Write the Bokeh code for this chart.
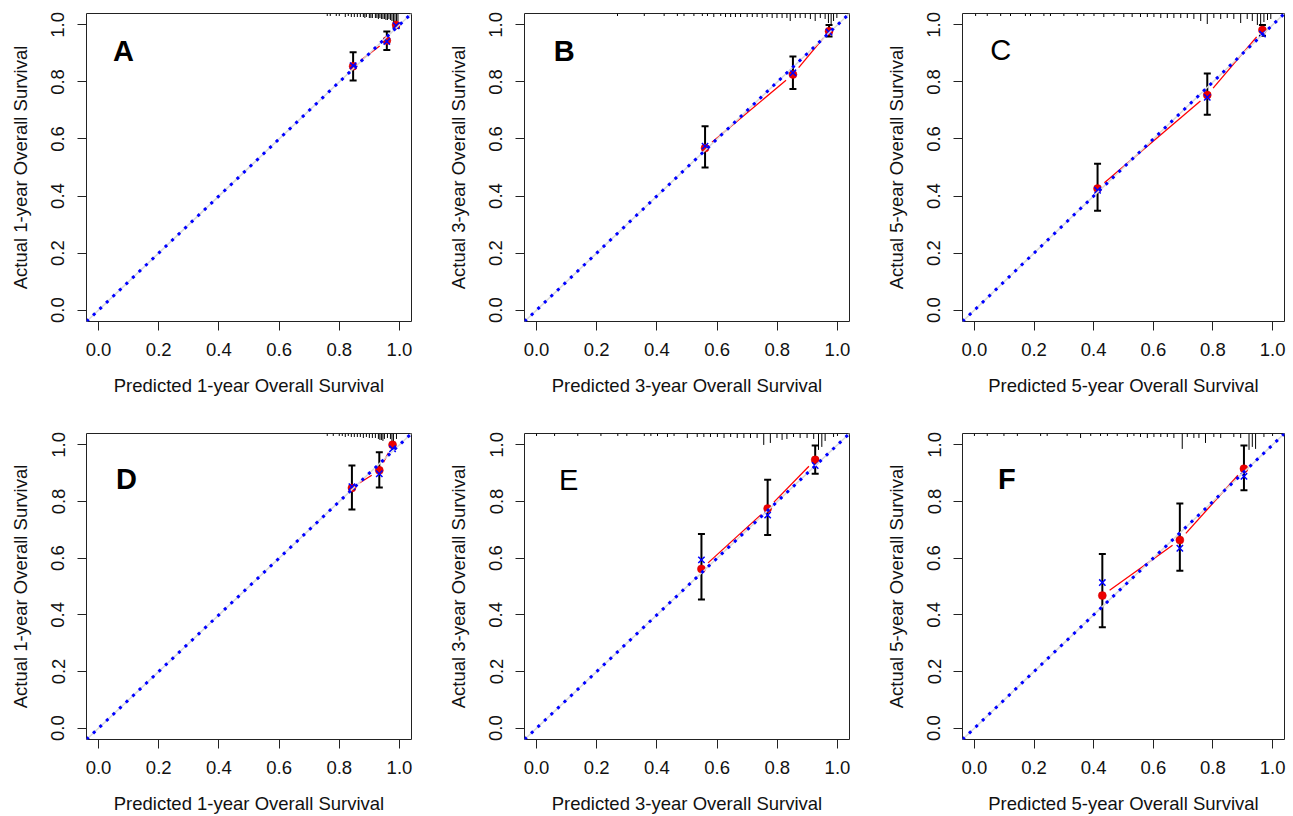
from bokeh.plotting import figure
from bokeh.models import (Range1d, FixedTicker, PrintfTickFormatter, Slope, Whisker,
                          TeeHead, ColumnDataSource, Label)
from bokeh.layouts import row, column
from bokeh.embed import file_html
from bokeh.resources import INLINE

# ---------------- data ----------------
tick_values = [0.0, 0.2, 0.4, 0.6, 0.8, 1.0]
tick_labels = ["0.0", "0.2", "0.4", "0.6", "0.8", "1.0"]

panel_keys = ["A", "B", "C", "D", "E", "F"]
panel_years = [1, 3, 5, 1, 3, 5]

# predicted (x), observed (red dots), CI low/high, KM-corrected (blue x)
pred_A = [0.846, 0.958, 0.989]
obs_A = [0.855, 0.945, 1.000]
lo_A = [0.805, 0.912, 0.990]
hi_A = [0.904, 0.977, 1.000]
km_A = [0.857, 0.942, 0.997]

pred_B = [0.560, 0.852, 0.972]
obs_B = [0.568, 0.826, 0.978]
lo_B = [0.500, 0.775, 0.959]
hi_B = [0.645, 0.889, 1.000]
km_B = [0.575, 0.832, 0.975]

pred_C = [0.413, 0.781, 0.966]
obs_C = [0.426, 0.754, 0.982]
lo_C = [0.348, 0.685, 0.962]
hi_C = [0.513, 0.830, 1.000]
km_C = [0.420, 0.746, 0.968]

pred_D = [0.842, 0.933, 0.977]
obs_D = [0.848, 0.910, 1.000]
lo_D = [0.772, 0.849, 0.995]
hi_D = [0.927, 0.974, 1.000]
km_D = [0.852, 0.898, 0.986]

pred_E = [0.548, 0.768, 0.926]
obs_E = [0.562, 0.775, 0.947]
lo_E = [0.454, 0.682, 0.898]
hi_E = [0.685, 0.877, 0.998]
km_E = [0.594, 0.752, 0.927]

pred_F = [0.429, 0.689, 0.904]
obs_F = [0.468, 0.664, 0.916]
lo_F = [0.356, 0.556, 0.840]
hi_F = [0.615, 0.793, 0.998]
km_F = [0.514, 0.635, 0.889]

# rug of predicted values at the top (position, relative count)
rug_x_A = [0.76, 0.77, 0.79, 0.80, 0.82, 0.83, 0.84, 0.85, 0.86, 0.87, 0.88, 0.885, 0.89, 0.90,
           0.905, 0.91, 0.92, 0.925, 0.93, 0.935, 0.94, 0.945, 0.95, 0.955, 0.96, 0.965, 0.97,
           0.975, 0.98, 0.985, 0.99, 0.995]
rug_n_A = [1, 1, 1, 1, 2, 1, 2, 2, 2, 2, 2, 3, 2, 3, 3, 3, 3, 3, 4, 3, 4, 4, 4, 5, 5, 4, 5, 6,
           10, 15, 12, 6]

rug_x_B = [0.269, 0.358, 0.424, 0.468, 0.490, 0.523, 0.551, 0.568, 0.589, 0.612, 0.628, 0.645,
           0.661, 0.678, 0.700, 0.717, 0.733, 0.750, 0.766, 0.783, 0.799, 0.816, 0.832, 0.843,
           0.860, 0.876, 0.893, 0.910, 0.926, 0.943, 0.959, 0.970, 0.979, 0.987, 0.998]
rug_n_B = [1, 1, 1, 1, 1, 1, 1, 1, 2, 1, 2, 2, 2, 2, 2, 2, 2, 3, 2, 3, 3, 3, 3, 6, 3, 3, 3, 4,
           6, 3, 4, 8, 10, 6, 3]

rug_x_C = [0.004, 0.043, 0.088, 0.121, 0.171, 0.188, 0.233, 0.255, 0.300, 0.345, 0.367, 0.401,
           0.434, 0.468, 0.501, 0.529, 0.557, 0.580, 0.602, 0.625, 0.647, 0.669, 0.692, 0.714,
           0.736, 0.759, 0.781, 0.803, 0.826, 0.848, 0.870, 0.893, 0.915, 0.932, 0.949, 0.960,
           0.971, 0.983, 0.994]
rug_n_C = [1, 1, 1, 1, 1, 1, 1, 1, 1, 1, 1, 1, 2, 1, 2, 2, 2, 2, 2, 3, 3, 3, 3, 3, 4, 6, 9, 3,
           4, 3, 4, 8, 4, 6, 10, 9, 7, 5, 4]

rug_x_D = [0.76, 0.78, 0.80, 0.81, 0.82, 0.83, 0.84, 0.85, 0.86, 0.87, 0.88, 0.89, 0.90, 0.91,
           0.92, 0.93, 0.935, 0.94, 0.945, 0.95, 0.96, 0.97, 0.975, 0.98, 0.99]
rug_n_D = [1, 1, 1, 1, 2, 1, 2, 2, 2, 2, 3, 2, 3, 3, 3, 4, 5, 5, 6, 4, 3, 4, 10, 14, 4]

rug_x_E = [0.0, 0.060, 0.137, 0.214, 0.270, 0.300, 0.358, 0.380, 0.402, 0.435, 0.457, 0.501,
           0.534, 0.556, 0.578, 0.601, 0.623, 0.645, 0.667, 0.689, 0.711, 0.733, 0.755, 0.777,
           0.799, 0.816, 0.832, 0.854, 0.876, 0.899, 0.921, 0.937, 0.948, 0.959, 0.987, 1.0]
rug_n_E = [1, 1, 1, 1, 1, 1, 1, 1, 1, 2, 1, 3, 2, 2, 2, 2, 3, 2, 3, 3, 3, 3, 10, 8, 3, 5, 4, 2,
           3, 3, 4, 15, 12, 6, 2, 1]

rug_x_F = [0.0, 0.043, 0.099, 0.144, 0.222, 0.244, 0.311, 0.356, 0.390, 0.423, 0.446, 0.479,
           0.513, 0.535, 0.557, 0.580, 0.602, 0.625, 0.647, 0.669, 0.697, 0.714, 0.736, 0.753,
           0.775, 0.803, 0.826, 0.870, 0.893, 0.921, 0.932, 0.943, 0.971, 1.0]
rug_n_F = [1, 1, 1, 1, 1, 1, 1, 3, 1, 1, 1, 1, 2, 1, 2, 3, 2, 2, 2, 3, 14, 2, 3, 3, 8, 2, 3, 2,
           3, 15, 12, 14, 2, 1]

data = {
    "A": (pred_A, obs_A, lo_A, hi_A, km_A, rug_x_A, rug_n_A),
    "B": (pred_B, obs_B, lo_B, hi_B, km_B, rug_x_B, rug_n_B),
    "C": (pred_C, obs_C, lo_C, hi_C, km_C, rug_x_C, rug_n_C),
    "D": (pred_D, obs_D, lo_D, hi_D, km_D, rug_x_D, rug_n_D),
    "E": (pred_E, obs_E, lo_E, hi_E, km_E, rug_x_E, rug_n_E),
    "F": (pred_F, obs_F, lo_F, hi_F, km_F, rug_x_F, rug_n_F),
}

# ---------------- styling / layout ----------------
FONT = "Liberation Sans"
LO, HI = -0.04, 1.04
SPAN = HI - LO
# letter placement (data coords) and boldness
letter_pos = {"A": (0.083, 0.910), "B": (0.092, 0.910), "C": (0.088, 0.913),
              "D": (0.093, 0.878), "E": (0.107, 0.875), "F": (0.109, 0.878)}
letter_bold = {"A": True, "B": True, "C": False, "D": True, "E": False, "F": True}


def make_panel(key, year, col, rown):
    pred, obs, lo, hi, km, rx, rn = data[key]
    last = col == 2
    frame_w = 322 if last else 325
    frame_h = 308
    mb_left = 86
    mb_top = 13 if rown == 0 else 5
    mb_right = 7 if last else 27
    mb_bottom = 107 if rown == 0 else 75
    width = mb_left + frame_w + mb_right
    height = mb_top + frame_h + mb_bottom

    p = figure(width=width, height=height, x_range=Range1d(LO, HI), y_range=Range1d(LO, HI),
               output_backend="svg", toolbar_location=None,
               min_border_left=mb_left, min_border_right=mb_right,
               min_border_top=mb_top, min_border_bottom=mb_bottom)
    p.grid.visible = False
    p.background_fill_color = "white"
    p.border_fill_color = "white"
    p.outline_line_color = "#222222"
    p.outline_line_width = 1
    p.outline_line_alpha = 1.0

    for ax in (p.xaxis[0], p.yaxis[0]):
        ax.ticker = FixedTicker(ticks=tick_values)
        ax.formatter = PrintfTickFormatter(format="%.1f")
        ax.axis_line_color = None
        ax.major_tick_in = 0
        ax.major_tick_out = 9
        ax.major_tick_line_color = "#222222"
        ax.major_tick_line_width = 1
        ax.minor_tick_line_color = None
        ax.major_label_text_font = FONT
        ax.major_label_text_font_size = "18.5px"
        ax.major_label_text_color = "#111111"
        ax.axis_label_text_font = FONT
        ax.axis_label_text_font_size = "18.5px"
        ax.axis_label_text_font_style = "normal"
        ax.axis_label_text_color = "#111111"
    p.xaxis[0].major_label_standoff = 12
    p.xaxis[0].axis_label_standoff = 16
    p.yaxis[0].major_label_standoff = 13
    p.yaxis[0].axis_label_standoff = 18
    p.yaxis[0].major_label_orientation = "vertical"
    p.xaxis[0].axis_label = f"Predicted {year}-year Overall Survival"
    p.yaxis[0].axis_label = f"Actual {year}-year Overall Survival"

    xppu = frame_w / SPAN
    yppu = frame_h / SPAN

    # rug of predictions along the top
    rug_len = [(1.5 + n * 1.0) / yppu for n in rn]
    p.segment(x0=rx, y0=[HI] * len(rx), x1=rx, y1=[HI - L for L in rug_len],
              line_color="black", line_width=1)

    # ideal line (grey underlay)
    p.add_layout(Slope(gradient=1, y_intercept=0, line_color="#d9d9d9", line_width=1.5))

    # red line with gaps around points (type = "b")
    gap = 9.0
    sx0, sy0, sx1, sy1 = [], [], [], []
    for i in range(len(pred) - 1):
        dxp = (pred[i + 1] - pred[i]) * xppu
        dyp = (obs[i + 1] - obs[i]) * yppu
        ln = (dxp ** 2 + dyp ** 2) ** 0.5
        if ln <= 2 * gap:
            continue
        f = gap / ln
        sx0.append(pred[i] + f * (pred[i + 1] - pred[i]))
        sy0.append(obs[i] + f * (obs[i + 1] - obs[i]))
        sx1.append(pred[i + 1] - f * (pred[i + 1] - pred[i]))
        sy1.append(obs[i + 1] - f * (obs[i + 1] - obs[i]))
    p.segment(x0=sx0, y0=sy0, x1=sx1, y1=sy1, line_color="#ff0000", line_width=1.3)

    # observed points
    p.scatter(pred, obs, marker="circle", size=8, fill_color="#ee0000",
              line_color="#cc0000", line_width=0.5)

    # error bars
    src = ColumnDataSource(dict(x=pred, lo=lo, hi=hi))
    p.add_layout(Whisker(base="x", lower="lo", upper="hi", source=src, dimension="height",
                         line_color="black", line_width=2,
                         upper_head=TeeHead(size=7, line_color="black", line_width=2),
                         lower_head=TeeHead(size=7, line_color="black", line_width=2)))

    # KM-corrected estimates
    p.scatter(pred, km, marker="x", size=9, line_color="#0000ff", line_width=1.5)

    # ideal line (blue dotted)
    p.add_layout(Slope(gradient=1, y_intercept=0, line_color="#0000ff", line_width=3,
                       line_dash="3 6"))

    lx, ly = letter_pos[key]
    p.add_layout(Label(x=lx, y=ly, text=key, text_font=FONT, text_font_size="29px",
                       text_font_style="bold" if letter_bold[key] else "normal",
                       text_align="center", text_baseline="alphabetic", text_color="black"))
    return p


panels = []
for idx, (k, yr) in enumerate(zip(panel_keys, panel_years)):
    panels.append(make_panel(k, yr, idx % 3, idx // 3))

layout = column(row(*panels[:3]), row(*panels[3:]))

open("out.html", "w").write(file_html(layout, INLINE))
